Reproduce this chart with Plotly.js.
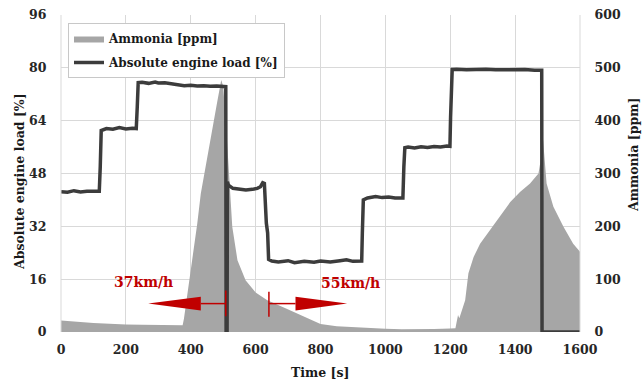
<!DOCTYPE html>
<html>
<head>
<meta charset="utf-8">
<script src="https://cdn.plot.ly/plotly-3.0.1.min.js"></script>
<style>html,body{margin:0;padding:0;background:#fff;}#chart{width:642px;height:387px;}</style>
</head>
<body>
<div id="chart"></div>
<script>
// Ammonia [ppm] (right axis)
const ammoniaTime = [0, 30, 60, 100, 150, 200, 250, 300, 350, 375, 379, 390, 405, 420, 431, 450, 467, 480, 494, 500, 508, 515, 521, 528, 544, 569, 600, 636, 692, 740, 800, 850, 900, 950, 1000, 1050, 1100, 1150, 1200, 1216, 1220, 1224, 1228, 1235, 1246, 1256, 1272, 1292, 1323, 1354, 1385, 1415, 1446, 1472, 1480, 1484, 1497, 1518, 1549, 1579, 1600];
const ammoniaPpm = [22, 21, 19, 17, 15, 14, 13.5, 13, 12.5, 13, 25, 73, 136, 205, 262, 330, 388, 430, 477, 465, 400, 330, 287, 199, 136, 98, 75, 60, 45, 32, 15, 11, 9, 8, 6, 5, 5, 5.5, 6.5, 7, 20, 32, 26, 38, 60, 111, 142, 167, 193, 221, 246, 265, 281, 300, 330, 380, 281, 237, 199, 167, 152];

// Absolute engine load [%] (left axis)
const loadTime = [0, 20, 40, 60, 80, 100, 118, 121, 124, 140, 160, 180, 200, 220, 232, 235, 238, 250, 270, 290, 300, 320, 340, 360, 380, 400, 420, 440, 460, 480, 500, 508, 509, 512, 513, 516, 530, 550, 570, 590, 605, 615, 622, 627, 630, 633, 637, 640, 650, 670, 700, 720, 750, 780, 800, 830, 860, 880, 900, 920, 927, 929, 932, 945, 970, 990, 1010, 1030, 1050, 1054, 1057, 1060, 1070, 1090, 1110, 1130, 1150, 1170, 1190, 1199, 1201, 1203, 1206, 1220, 1250, 1280, 1310, 1340, 1370, 1400, 1430, 1460, 1478, 1482, 1483, 1500, 1550, 1600];
const loadPct = [42.5, 42.3, 42.8, 42.4, 42.6, 42.5, 42.6, 50, 61, 61.6, 61.4, 61.9, 61.5, 61.7, 61.6, 68, 75.5, 75.6, 75.3, 75.7, 75.4, 75.5, 75.2, 74.9, 74.6, 74.7, 74.5, 74.6, 74.4, 74.5, 74.4, 74.3, 0, 0, 45.5, 44.5, 43.5, 43.3, 43.0, 43.2, 43.5, 44.0, 45.2, 45.0, 36, 33, 30, 22, 21.5, 21.2, 21.6, 21.0, 21.4, 21.1, 21.5, 21.2, 21.6, 21.9, 21.4, 21.6, 21.5, 30, 40, 40.6, 41.0, 40.7, 40.9, 40.6, 40.8, 40.6, 50, 55.8, 56.0, 55.7, 56.1, 55.9, 56.2, 56.0, 56.3, 56.2, 65, 72, 79.5, 79.6, 79.4, 79.5, 79.6, 79.4, 79.5, 79.4, 79.5, 79.3, 79.4, 79.3, 0, 0, 0, 0];

const xTicks = [0, 200, 400, 600, 800, 1000, 1200, 1400, 1600];

const SERIF = 'DejaVu Serif';
const tickFont = {family: SERIF, size: 12.5, color: '#262626', weight: 700};
const titleFont = {family: SERIF, size: 12.5, color: '#1a1a1a', weight: 700};
const red = '#c00000';

function px2paperX(p) { return (p - 61) / 519; }
function px2paperY(p) { return (332 - p) / 317; }

const traces = [
  {
    x: ammoniaTime, y: ammoniaPpm, name: 'Ammonia [ppm]', type: 'scatter', mode: 'lines',
    fill: 'tozeroy', fillcolor: '#a6a6a6', line: {width: 0, color: '#a6a6a6'}, yaxis: 'y',
    legendgroup: 'a'
  },
  {
    x: loadTime, y: loadPct, name: 'Absolute engine load [%]', type: 'scatter', mode: 'lines',
    line: {width: 3.5, color: '#3c3c3c'}, yaxis: 'y2', legendgroup: 'b'
  }
];

const layout = {
  width: 642, height: 387,
  margin: {l: 61, r: 62, t: 15, b: 55},
  paper_bgcolor: '#fff', plot_bgcolor: '#fff',
  showlegend: true,
  legend: {
    x: px2paperX(68), y: px2paperY(23), xanchor: 'left', yanchor: 'top',
    bgcolor: '#fff', bordercolor: '#c8c8c8', borderwidth: 1,
    font: {family: SERIF, size: 12, color: '#1a1a1a', weight: 700},
    traceorder: 'grouped', tracegroupgap: 5, itemwidth: 30
  },
  xaxis: {
    range: [0, 1600], tickvals: xTicks, showgrid: true, gridcolor: '#d9d9d9', gridwidth: 1,
    zeroline: false, showline: false, ticks: 'outside', ticklen: 6, tickcolor: 'rgba(0,0,0,0)',
    tickfont: tickFont, fixedrange: true
  },
  yaxis: {
    range: [0, 600], dtick: 100, side: 'right', showgrid: true, gridcolor: '#d9d9d9',
    zeroline: false, showline: false, ticks: 'outside', ticklen: 11, tickcolor: 'rgba(0,0,0,0)',
    tickfont: tickFont
  },
  yaxis2: {
    range: [0, 96], dtick: 16, side: 'left', overlaying: 'y', showgrid: false,
    zeroline: false, showline: false, ticks: 'outside', ticklen: 11, tickcolor: 'rgba(0,0,0,0)',
    tickfont: tickFont
  },
  shapes: [
    {type: 'line', xref: 'paper', yref: 'paper', x0: 0, x1: 0, y0: 0, y1: 1, line: {color: '#d9d9d9', width: 1}},
    {type: 'line', xref: 'paper', yref: 'paper', x0: 1, x1: 1, y0: 0, y1: 1, line: {color: '#d9d9d9', width: 1}},
    // legend shadow
    {type: 'rect', xref: 'paper', yref: 'paper', layer: 'above',
     x0: px2paperX(71), x1: px2paperX(283.5), y0: px2paperY(77.5), y1: px2paperY(26),
     fillcolor: 'rgba(120,120,120,0.35)', line: {width: 0}},
    // speed arrows
    {type: 'path', xref: 'x', yref: 'y2', path: 'M 431 10.7 L 431 6.5 L 269 8.6 Z', fillcolor: red, line: {width: 0}},
    {type: 'line', xref: 'x', yref: 'y2', x0: 431, x1: 508, y0: 8.6, y1: 8.6, line: {color: red, width: 1.5}},
    {type: 'line', xref: 'x', yref: 'y2', x0: 508, x1: 508, y0: 4.8, y1: 12.6, line: {color: red, width: 1.5}},
    {type: 'path', xref: 'x', yref: 'y2', path: 'M 723 10.7 L 723 6.5 L 882 8.6 Z', fillcolor: red, line: {width: 0}},
    {type: 'line', xref: 'x', yref: 'y2', x0: 641, x1: 723, y0: 8.6, y1: 8.6, line: {color: red, width: 1.5}},
    {type: 'line', xref: 'x', yref: 'y2', x0: 641, x1: 641, y0: 4.6, y1: 12.2, line: {color: red, width: 1.5}}
  ],
  annotations: [
    {text: '37km/h', xref: 'paper', yref: 'paper', x: px2paperX(143), y: px2paperY(282), xanchor: 'center', yanchor: 'middle',
     showarrow: false, font: {family: SERIF, size: 14, color: red, weight: 700}},
    {text: '55km/h', xref: 'paper', yref: 'paper', x: px2paperX(350), y: px2paperY(283), xanchor: 'center', yanchor: 'middle',
     showarrow: false, font: {family: SERIF, size: 14, color: red, weight: 700}},
    {text: 'Absolute engine load [%]', xref: 'paper', yref: 'paper', x: px2paperX(19), y: px2paperY(182),
     xanchor: 'center', yanchor: 'middle', showarrow: false, textangle: -90, font: titleFont},
    {text: 'Ammonia [ppm]', xref: 'paper', yref: 'paper', x: px2paperX(633), y: px2paperY(155),
     xanchor: 'center', yanchor: 'middle', showarrow: false, textangle: -90, font: titleFont},
    {text: 'Time [s]', xref: 'paper', yref: 'paper', x: px2paperX(320), y: px2paperY(372),
     xanchor: 'center', yanchor: 'middle', showarrow: false, font: titleFont}
  ]
};

Plotly.newPlot('chart', traces, layout, {displayModeBar: false, staticPlot: true});
</script>
</body>
</html>
